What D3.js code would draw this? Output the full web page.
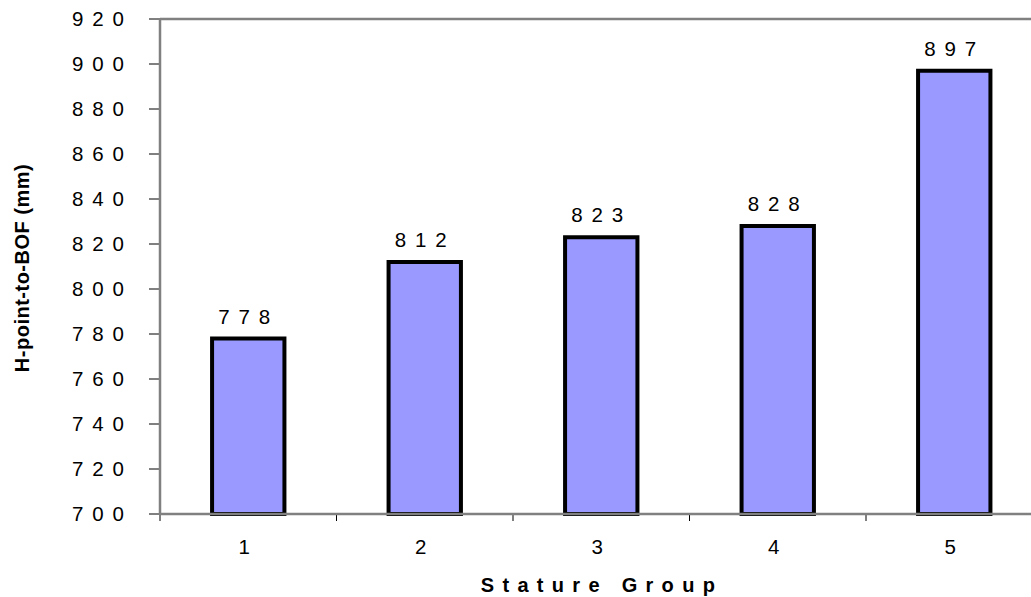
<!DOCTYPE html>
<html><head><meta charset="utf-8">
<script src="https://cdn.jsdelivr.net/npm/d3@7"></script>
<style>body{margin:0;background:#fff}svg{display:block}text{font-family:"Liberation Sans",Arial,sans-serif;white-space:pre}</style>
</head><body>
<svg id="c" width="1031" height="597"></svg>
<script>
const categories = ["1","2","3","4","5"];
const values = [778, 812, 823, 828, 897];
const yTicks = [700,720,740,760,780,800,820,840,860,880,900,920];
const xTitle = "Stature Group";
const yTitle = "H-point-to-BOF (mm)";

const svg = d3.select("#c");
const L = 160, R = 1042.5, T = 19, B = 514;
const x = d3.scaleBand().domain(categories).range([L, R]).paddingInner(0.59).paddingOuter(0.295);
const xb = d3.scaleBand().domain(categories).range([L, R]);
const y = d3.scaleLinear().domain([700, 920]).range([B, T]);
const spaced = s => String(s).split("").join(" ");
const FS = 20.5, LS = 1.6;

// frame: top and right grey
svg.append("line").attr("x1", L).attr("x2", 1031).attr("y1", T).attr("y2", T).attr("stroke", "#808080").attr("stroke-width", 2.5);
svg.append("line").attr("x1", R).attr("x2", R).attr("y1", T).attr("y2", B).attr("stroke", "#808080").attr("stroke-width", 2.5);

// y axis ticks
svg.selectAll(".yt").data(yTicks).enter().append("line")
  .attr("x1", L - 11).attr("x2", L).attr("y1", d => y(d)).attr("y2", d => y(d))
  .attr("stroke", "#000").attr("stroke-width", 1);
svg.selectAll(".yl").data(yTicks).enter().append("text")
  .attr("x", 124 + LS).attr("y", d => y(d) + 7).attr("text-anchor", "end")
  .attr("font-size", FS).style("letter-spacing", LS + "px").text(d => spaced(d));

// x ticks at band boundaries
const bounds = categories.map(c => xb(c)).concat([R]);
svg.selectAll(".xt").data(bounds).enter().append("line")
  .attr("x1", d => d).attr("x2", d => d).attr("y1", B).attr("y2", B + 7)
  .attr("stroke", "#000").attr("stroke-width", 1);
svg.selectAll(".xl").data(categories).enter().append("text")
  .attr("x", d => xb(d) + xb.bandwidth() / 2 - 4).attr("y", 554).attr("text-anchor", "middle")
  .attr("font-size", FS).text(d => d);

// bars
svg.selectAll(".bar").data(values).enter().append("rect")
  .attr("x", (d, i) => x(categories[i])).attr("width", x.bandwidth())
  .attr("y", d => y(d)).attr("height", d => B - y(d))
  .attr("fill", "#9999FF").attr("stroke", "#000").attr("stroke-width", 4);
svg.selectAll(".bl").data(values).enter().append("text")
  .attr("x", (d, i) => x(categories[i]) + x.bandwidth() / 2 - 4 + LS / 2).attr("y", d => y(d) - 15)
  .attr("text-anchor", "middle").attr("font-size", FS).style("letter-spacing", LS + "px")
  .text(d => spaced(d));

// axes lines (grey)
svg.append("line").attr("x1", L).attr("x2", L).attr("y1", T - 1).attr("y2", B + 1).attr("stroke", "#808080").attr("stroke-width", 2.5);
svg.append("line").attr("x1", L).attr("x2", 1031).attr("y1", B).attr("y2", B).attr("stroke", "#808080").attr("stroke-width", 2.5);

// titles
svg.append("text").attr("x", 598 + 4).attr("y", 592).attr("text-anchor", "middle")
  .attr("font-size", 20).attr("font-weight", "bold").style("letter-spacing", "8.3px")
  .text(xTitle);
svg.append("text").attr("transform", "translate(29,268) rotate(-90)").attr("text-anchor", "middle")
  .attr("font-size", 20).attr("font-weight", "bold").style("letter-spacing", "0.5px").text(yTitle);
</script>
</body></html>
